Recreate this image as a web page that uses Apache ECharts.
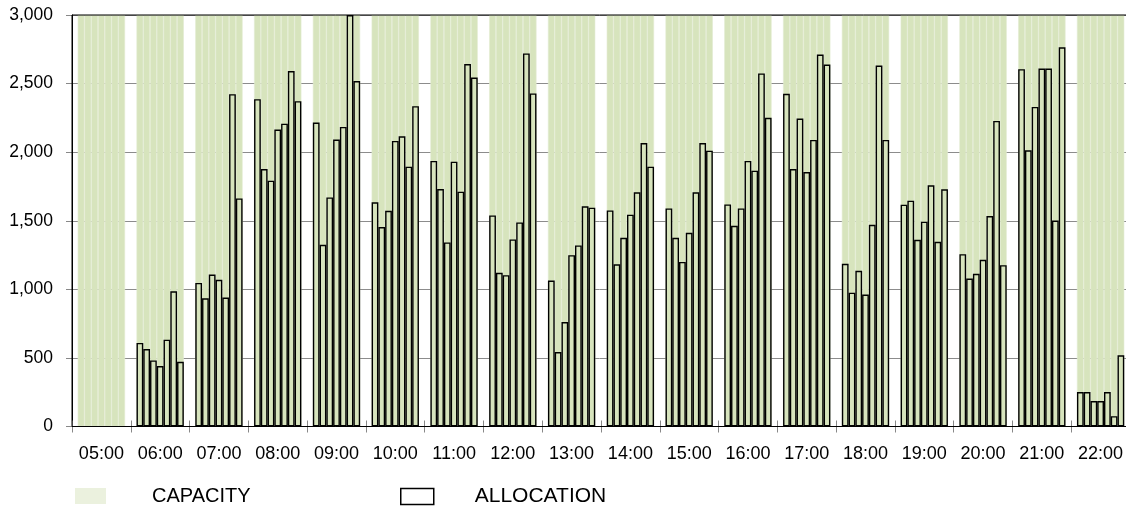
<!DOCTYPE html>
<html>
<head>
<meta charset="utf-8">
<script src="https://cdn.jsdelivr.net/npm/echarts@6/dist/echarts.min.js"></script>
<style>
html,body{margin:0;padding:0;background:#fff;}
#c{width:1126px;height:509px;}
</style>
</head>
<body>
<div id="c"></div>
<script>
// Hour categories
const hours = ['05:00','06:00','07:00','08:00','09:00','10:00','11:00','12:00','13:00','14:00','15:00','16:00','17:00','18:00','19:00','20:00','21:00','22:00'];
// Capacity per hour (each of the 7 slots in an hour)
const capacity = [3000,3000,3000,3000,3000,3000,3000,3000,3000,3000,3000,3000,3000,3000,3000,3000,3000,3000];
// Allocation, 7 slots per hour
const a05 = [null,null,null,null,null,null,null];
const a06 = [609,565,482,441,633,986,472];
const a07 = [1047,935,1108,1069,940,2423,1663];
const a08 = [2386,1877,1792,2165,2208,2591,2372];
const a09 = [2216,1325,1670,2092,2184,3000,2518];
const a10 = [1634,1454,1573,2082,2116,1894,2335];
const a11 = [1936,1731,1342,1931,1712,2642,2544];
const a12 = [1539,1120,1103,1364,1488,2720,2428];
const a13 = [1064,543,762,1249,1320,1605,1595];
const a14 = [1575,1183,1376,1544,1707,2067,1894];
const a15 = [1590,1376,1200,1412,1707,2067,2011];
const a16 = [1619,1463,1590,1936,1865,2574,2250];
const a17 = [2425,1877,2245,1855,2089,2712,2639];
const a18 = [1186,976,1135,962,1471,2632,2089];
const a19 = [1617,1646,1361,1493,1758,1346,1729];
const a20 = [1256,1079,1113,1215,1534,2228,1176];
const a21 = [2605,2014,2330,2610,2610,1502,2764];
const a22 = [251,251,185,185,251,75,519];
const allocation = [a05,a06,a07,a08,a09,a10,a11,a12,a13,a14,a15,a16,a17,a18,a19,a20,a21,a22];
const slots = 7;
const yTicks = [0,500,1000,1500,2000,2500,3000];

const FONT = 'Liberation Sans';
const series = [];
for (let s = 0; s < slots; s++) {
  series.push({
    name: 'CAPACITY', type: 'bar', xAxisIndex: 1, yAxisIndex: 0,
    data: capacity.slice(),
    barGap: '0%', barCategoryGap: '19.5%',
    itemStyle: { color: '#d7e4bd', borderColor: '#e3ebd2', borderWidth: 0.6 },
    silent: true, z: 1
  });
}
for (let s = 0; s < slots; s++) {
  series.push({
    name: 'ALLOCATION', type: 'bar', xAxisIndex: 0, yAxisIndex: 0,
    data: allocation.map(h => h[s]),
    barGap: '0%', barCategoryGap: '19.5%',
    itemStyle: { color: 'rgba(0,0,0,0)', borderColor: '#000', borderWidth: 1.4 },
    silent: true, z: 3
  });
}

const chart = echarts.init(document.getElementById('c'), null, {renderer: 'canvas'});
chart.setOption({
  animation: false,
  backgroundColor: '#fff',
  grid: { left: 72, top: 15, width: 1058, height: 411.5, outerBoundsMode: 'none', containLabel: false,
    show: true, borderColor: '#000', borderWidth: 1, backgroundColor: 'rgba(0,0,0,0)', z: 5 },
  legend: [
    { left: 75, top: 486, padding: 0, itemWidth: 31, itemHeight: 16, icon: 'rect',
      data: [{ name: 'CAPACITY', itemStyle: { color: '#ebf1de', borderWidth: 0 } }],
      textStyle: { fontFamily: FONT, fontSize: 20, color: '#000', padding: [3, 0, 0, 41] }, selectedMode: false },
    { left: 400, top: 486, padding: 0, itemWidth: 33, itemHeight: 16, icon: 'rect',
      data: [{ name: 'ALLOCATION', itemStyle: { color: '#fff', borderColor: '#000', borderWidth: 1.5 } }],
      textStyle: { fontFamily: FONT, fontSize: 21, color: '#000', padding: [0, 0, 0, 36] }, selectedMode: false }
  ],
  xAxis: [
    { type: 'category', data: hours, position: 'bottom', boundaryGap: true,
      axisLine: { show: true, lineStyle: { color: '#000', width: 1 } },
      axisTick: { show: true, length: 6, lineStyle: { color: '#888' } },
      axisLabel: { fontFamily: FONT, fontSize: 18, color: '#000', margin: 19, interval: 0 },
      splitLine: { show: false } },
    { type: 'category', data: hours, position: 'bottom', boundaryGap: true,
      axisLine: { show: false }, axisTick: { show: true, inside: true, length: 6, lineStyle: { color: '#888' } },
      axisLabel: { show: false }, splitLine: { show: false } }
  ],
  yAxis: [
    { type: 'value', min: 0, max: 3000, interval: 500,
      axisLine: { show: true, lineStyle: { color: '#000', width: 1 } },
      axisTick: { show: true, length: 6, lineStyle: { color: '#888' } },
      axisLabel: { fontFamily: FONT, fontSize: 17.5, color: '#000', margin: 19,
        formatter: v => yTicks.indexOf(v) >= 0 ? v.toLocaleString('en-US') : '' },
      splitLine: { show: true, lineStyle: { color: '#8c8c8c', width: 1 } } }
  ],
  series: series
});
</script>
</body>
</html>
